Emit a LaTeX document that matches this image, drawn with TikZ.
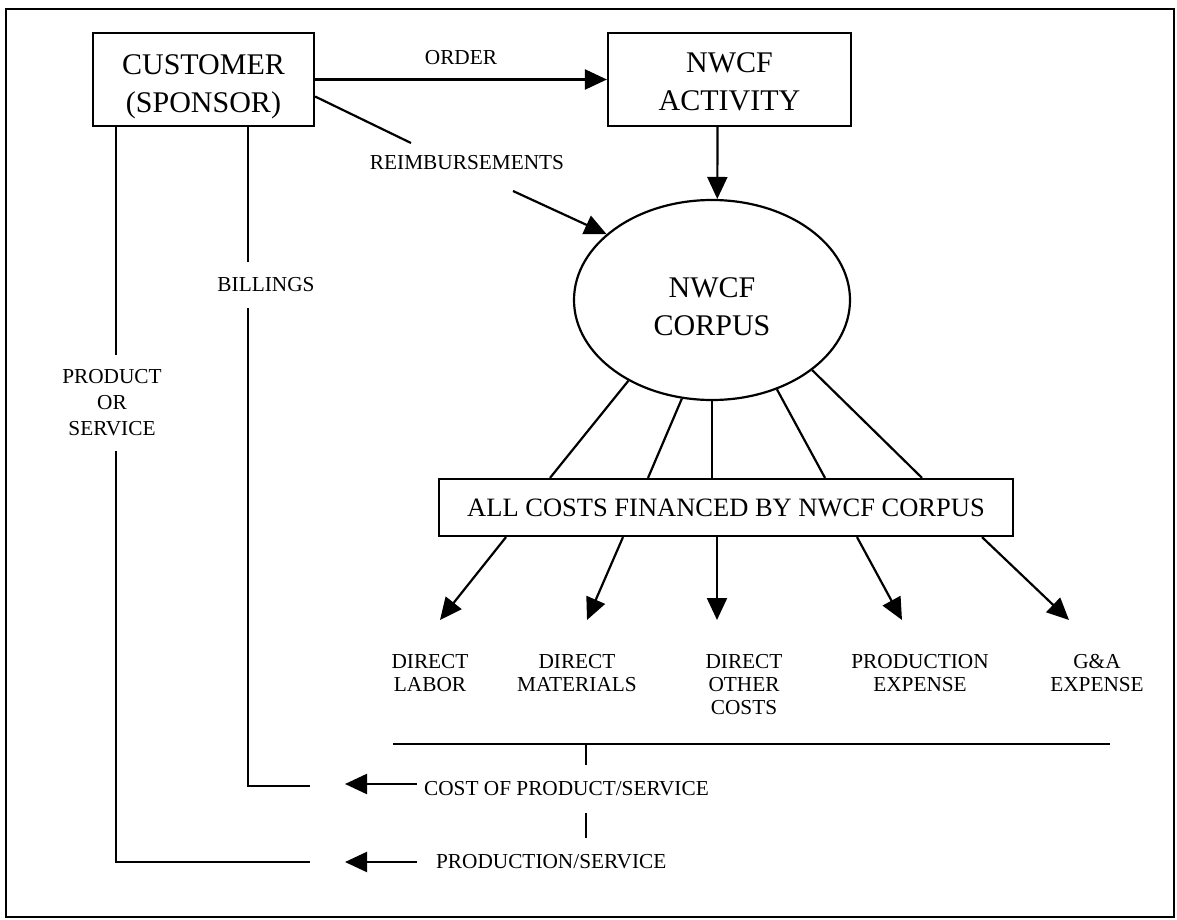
\documentclass[tikz,border=0pt]{standalone}
\usepackage{fontspec}
\setmainfont{Liberation Serif}
\usetikzlibrary{arrows.meta,shapes.geometric}
\begin{document}
\begin{tikzpicture}[x=1pt,y=-1pt,line width=2.2pt,
    box/.style={draw,rectangle,inner sep=0pt,align=center,font=\fontsize{30}{38}\selectfont},
    lbl/.style={inner sep=0pt,align=center,font=\fontsize{21.3}{23}\selectfont},
    arr/.style={-{Triangle[length=22pt,width=20pt]}}]
  \useasboundingbox (0,0) rectangle (1177,920);
  \draw (6,9) rectangle (1174,917);

  % boxes and the corpus
  \node[box,minimum width=221pt,minimum height=93pt] (cust) at (203.5,79.5)
    {\raisebox{-6pt}[\height][\depth]{\begin{tabular}{@{}c@{}}CUSTOMER\\(SPONSOR)\end{tabular}}};
  \node[box,minimum width=243pt,minimum height=93pt] (activity) at (729.5,79.5)
    {\raisebox{-4pt}[\height][\depth]{\begin{tabular}{@{}c@{}}NWCF\\ACTIVITY\end{tabular}}};
  \node[box,ellipse,minimum width=276pt,minimum height=200pt] (corpus) at (712,300)
    {\raisebox{-9pt}[\height][\depth]{\begin{tabular}{@{}c@{}}NWCF\\CORPUS\end{tabular}}};
  \node[box,minimum width=574pt,minimum height=57pt,font=\fontsize{26.5}{30}\selectfont] (costs) at (726,507.5) {ALL COSTS FINANCED BY NWCF CORPUS};

  % labels
  \node[lbl] (order) at (461,58) {ORDER};
  \node[lbl] (reim) at (467,163) {REIMBURSEMENTS};
  \node[lbl,inner sep=15pt] (billings) at (266,285) {BILLINGS};
  \node[lbl,inner sep=14pt,font=\fontsize{21.3}{26}\selectfont] (product) at (112,403) {PRODUCT\\OR\\SERVICE};

  \node[lbl,anchor=north] (labor) at (430,653) {DIRECT\\LABOR};
  \node[lbl,anchor=north] (materials) at (577,653) {DIRECT\\MATERIALS};
  \node[lbl,anchor=north] (other) at (744,653) {DIRECT\\OTHER\\COSTS};
  \node[lbl,anchor=north] (prodexp) at (920,653) {PRODUCTION\\EXPENSE};
  \node[lbl,anchor=north] (gaexp) at (1097,653) {G\&A\\EXPENSE};

  \node[lbl,anchor=west] (costprod) at (423,789) {COST OF PRODUCT/SERVICE};
  \node[lbl,anchor=west] (prodserv) at (435,862) {PRODUCTION/SERVICE};

  % order and reimbursements
  \draw[arr] (cust) -- (activity);
  \draw[arr] ([xshift=-12pt]activity.south) -- (corpus.87);
  \coordinate (r1) at (411,143);
  \coordinate (r2) at (513,191);
  \draw ([yshift=-17pt]cust.east) -- (r1);
  \draw[arr] (r2) -- (corpus.148);

  % corpus to costs
  \foreach \a/\bx in {224/550, 253/648, 306/825, 325/922}
    \draw (corpus.\a) -- (costs.north -| \bx,0);
  \draw (corpus.south) -- (costs.north -| corpus.south);

  % costs to the cost elements
  \coordinate (labtip) at (440,620);
  \coordinate (mattip) at (587,620);
  \coordinate (othtip) at (717,620);
  \coordinate (pextip) at (902,620);
  \coordinate (gnatip) at (1069,620);
  \draw[arr] (costs.south -| 506,0) -- (labtip);
  \draw[arr] (costs.south -| 623,0) -- (mattip);
  \draw[arr] (costs.south -| othtip) -- (othtip);
  \draw[arr] (costs.south -| 857,0) -- (pextip);
  \draw[arr] (costs.south -| 982,0) -- (gnatip);

  % totals line
  \draw (393,744) -- (1110,744);
  \draw (586,744) -- (586,765);
  \draw (586,813) -- (586,838);

  % flows back to the customer
  \coordinate (pcorner) at (116,862);
  \coordinate (bcorner) at (248,786);
  \coordinate (ctip) at (345,784);
  \coordinate (ptip) at (345,862);
  \draw (cust.south -| bcorner) -- (billings.north -| bcorner);
  \draw (billings.south -| bcorner) -- (bcorner) -- ++(62,0);
  \draw (cust.south -| pcorner) -- (product.north -| pcorner);
  \draw (product.south -| pcorner) -- (pcorner) -- ++(194,0);
  \draw[arr] ([shift={(-6pt,5pt)}]costprod.west) -- (ctip);
  \draw[arr] ([xshift=-18pt]prodserv.west) -- (ptip);
\end{tikzpicture}
\end{document}
